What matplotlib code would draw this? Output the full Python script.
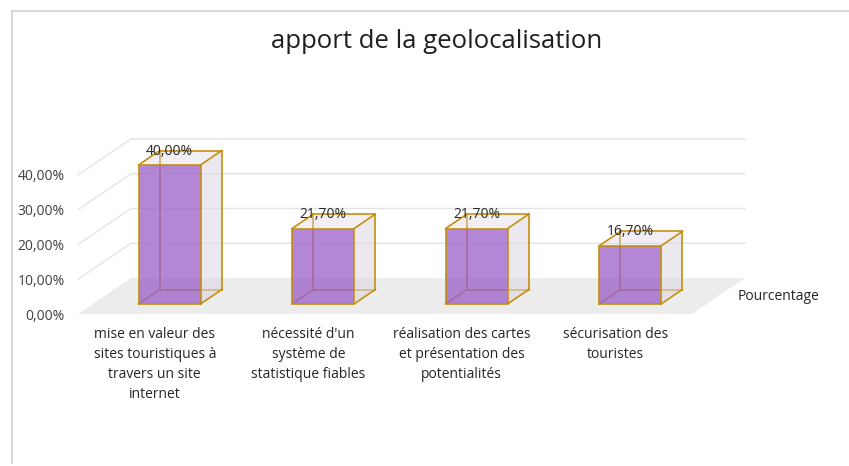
import matplotlib
matplotlib.use('Agg')
import matplotlib.pyplot as plt
from matplotlib.patches import Polygon

# données
categories = [
    "mise en valeur des\nsites touristiques à\ntravers un site\ninternet",
    "nécessité d'un\nsystème de\nstatistique fiables",
    "réalisation des cartes\net présentation des\npotentialités",
    "sécurisation des\ntouristes",
]
valeurs = [40.0, 21.7, 21.7, 16.7]
yticks = [0, 10, 20, 30, 40]
serie = 'Pourcentage'
titre = 'apport de la geolocalisation'

plt.rcParams['font.family'] = ['Open Sans', 'DejaVu Sans']

# pseudo 3D : décalage de profondeur (unités de données)
DX = 0.345
DY = 10.36
D0, D1 = 0.28, 0.68     # profondeur avant / arrière des colonnes
BW = 0.404              # largeur de colonne

GOLD = '#c4900e'
PURPLE = '#9b5fc9'
SIDE = '#ddd6e4'


def proj(x, y, d):
    return (x + d * DX, y + d * DY)


W, H = 849, 466
fig = plt.figure(figsize=(W / 100, H / 100), dpi=100)
ax = fig.add_axes([78 / W, (H - 314) / H, (745 - 78) / W, 50.4 * 3.475 / H])
ax.set_xlim(0, 4 + DX)
ax.set_ylim(0, 50.4)
for s in ax.spines.values():
    s.set_visible(False)
ax.set_xticks([])
ax.set_yticks(yticks)
ax.set_yticklabels([f"{v:.2f}".replace('.', ',') + '%' for v in yticks],
                   fontsize=10, color='#404040')
ax.tick_params(axis='y', length=0, pad=9.5)

n = len(valeurs)

# sol
sol = [proj(0, 0, 0), proj(n, 0, 0), proj(n, 0, 1), proj(0, 0, 1)]
ax.add_patch(Polygon(sol, closed=True, facecolor='#ececec', edgecolor='none',
                     zorder=1, clip_on=False))

# quadrillage (paroi gauche + paroi arrière)
for v in yticks[1:]:
    pts = [proj(0, v, 0), proj(0, v, 1), proj(n, v, 1)]
    ax.plot([p[0] for p in pts], [p[1] for p in pts], color='#e4e4e4',
            lw=1.0, zorder=0.5, clip_on=False)

# colonnes
y0 = D0 * DY
xs_front = [i + 0.5 - BW / 2 + D0 * DX for i in range(n)]
for i, v in enumerate(valeurs):
    x0 = i + 0.5 - BW / 2
    x1 = x0 + BW
    fbl, fbr = proj(x0, 0, D0), proj(x1, 0, D0)
    ftl, ftr = proj(x0, v, D0), proj(x1, v, D0)
    bbl, bbr = proj(x0, 0, D1), proj(x1, 0, D1)
    btl, btr = proj(x0, v, D1), proj(x1, v, D1)
    # arêtes cachées
    for a, b in [(bbl, btl), (bbl, bbr), (bbl, fbl)]:
        ax.plot([a[0], b[0]], [a[1], b[1]], color=GOLD, lw=1.2, zorder=3,
                clip_on=False)
    ax.add_patch(Polygon([fbr, bbr, btr, ftr], closed=True, facecolor=SIDE,
                         alpha=0.55, edgecolor='none', zorder=4, clip_on=False))
    ax.add_patch(Polygon([ftl, ftr, btr, btl], closed=True, facecolor=SIDE,
                         alpha=0.4, edgecolor='none', zorder=4, clip_on=False))
    for a, b in [(fbr, bbr), (bbr, btr), (btr, ftr), (ftl, btl), (btl, btr)]:
        ax.plot([a[0], b[0]], [a[1], b[1]], color=GOLD, lw=1.2, zorder=5,
                clip_on=False)

bars = ax.bar(xs_front, valeurs, width=BW, bottom=y0, align='edge',
              color=PURPLE, alpha=0.75, zorder=6, clip_on=False)
for b in bars:
    ax.add_patch(plt.Rectangle(b.get_xy(), b.get_width(), b.get_height(),
                               fill=False, edgecolor=GOLD, lw=1.2, zorder=7,
                               clip_on=False))

# étiquettes de données
for xf, v in zip(xs_front, valeurs):
    ax.annotate(f"{v:.2f}".replace('.', ',') + '%', xy=(xf + BW / 2, y0 + v),
                xytext=(0, 10), textcoords='offset points', ha='center',
                va='center', fontsize=10, color='#262626', zorder=8,
                annotation_clip=False)

# étiquettes des catégories
for i, lab in enumerate(categories):
    ax.text(i + 0.5, -3.7, lab, ha='center', va='top', fontsize=10,
            color='#262626', linespacing=1.45, clip_on=False)

ax.text(4.30, 4.9, serie, ha='left', va='center', fontsize=10, color='#262626')

fig.text(437 / W, 1 - 41 / H, titre, ha='center', va='center', fontsize=18.5,
         color='#1f1f1f')

# cadre du graphique
fig.add_artist(plt.Line2D([11.5 / W, 1], [1 - 10.5 / H] * 2, color='#d9d9d9',
                          lw=1.5, transform=fig.transFigure))
fig.add_artist(plt.Line2D([11.5 / W] * 2, [1 - 10.5 / H, 1 - 463 / H],
                          color='#d9d9d9', lw=1.5, transform=fig.transFigure))

fig.savefig('out.png', dpi=100)
